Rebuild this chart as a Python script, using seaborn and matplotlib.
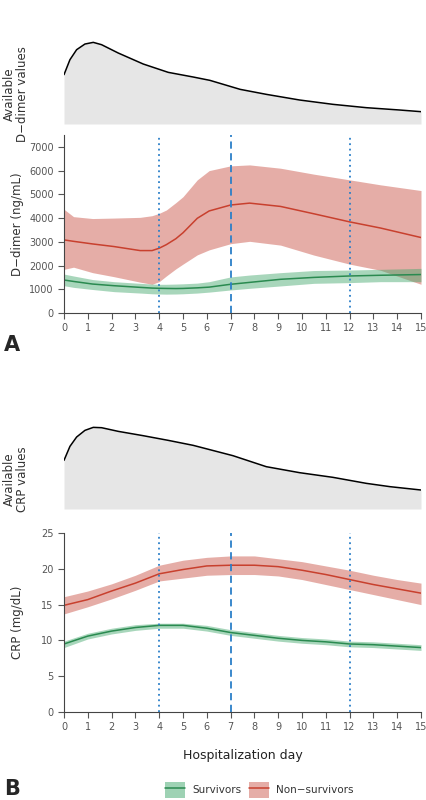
import numpy as np
import pandas as pd
import matplotlib
matplotlib.use('Agg')
import matplotlib.pyplot as plt
import seaborn as sns
from matplotlib.patches import Patch
from matplotlib.lines import Line2D

# availability curves (relative units), read at these days
dd_avail_x = [0, 0.25, 0.53, 0.88, 1.23, 1.58, 2.28, 3.33, 4.38, 5.43, 6.13, 7.4, 8.5, 9.9, 11.3, 12.7, 14.1, 15]
dd_avail = [148, 193, 223, 240, 245, 238, 213, 180, 155, 141, 131, 104, 89, 72, 59, 49, 42, 37]
crp_avail_x = [0, 0.25, 0.53, 0.88, 1.23, 1.58, 2.28, 3.33, 4.38, 5.43, 6.13, 7.1, 8.5, 9.9, 11.3, 12.7, 13.7, 15]
crp_avail = [146, 188, 216, 236, 245, 244, 233, 220, 206, 191, 178, 160, 127, 109, 95, 77, 67, 57]

# D-dimer (ng/mL)
dd_days = [0, 0.4, 1.2, 2.1, 3.2, 3.7, 4.0, 4.3, 4.7, 5.0, 5.6, 6.1, 7.0, 7.8, 9.1, 10.5, 12.0, 13.3, 15]
dd_non_mean = [3080, 3020, 2910, 2800, 2630, 2630, 2730, 2880, 3130, 3380, 3990, 4300, 4550, 4630, 4490, 4180, 3840, 3580, 3180]
dd_non_hi = [4370, 4060, 3980, 4000, 4030, 4100, 4200, 4340, 4650, 4900, 5610, 6000, 6200, 6240, 6100, 5850, 5610, 5400, 5160]
dd_non_lo = [1840, 1930, 1700, 1530, 1300, 1210, 1320, 1560, 1860, 2060, 2450, 2660, 2920, 3020, 2860, 2440, 2060, 1800, 1210]
dd_surv_mean = [1390, 1330, 1220, 1150, 1080, 1050, 1040, 1035, 1030, 1035, 1060, 1090, 1210, 1290, 1420, 1500, 1560, 1590, 1620]
dd_surv_hi = [1640, 1560, 1410, 1320, 1250, 1220, 1210, 1210, 1220, 1230, 1260, 1320, 1520, 1600, 1700, 1790, 1810, 1840, 1880]
dd_surv_lo = [1150, 1080, 990, 900, 840, 810, 800, 795, 800, 810, 840, 880, 970, 1040, 1140, 1250, 1280, 1320, 1320]

# CRP (mg/dL)
crp_days = list(range(16))
crp_non_mean = [14.9, 15.7, 16.9, 18.0, 19.3, 19.9, 20.4, 20.5, 20.5, 20.3, 19.8, 19.2, 18.5, 17.8, 17.2, 16.6]
crp_non_hi = [16.1, 16.9, 17.9, 19.1, 20.5, 21.2, 21.6, 21.8, 21.8, 21.4, 21.0, 20.4, 19.8, 19.1, 18.5, 18.0]
crp_non_lo = [13.7, 14.7, 15.8, 17.0, 18.3, 18.7, 19.1, 19.2, 19.2, 19.0, 18.5, 17.8, 17.1, 16.4, 15.7, 15.0]
crp_surv_mean = [9.5, 10.6, 11.3, 11.8, 12.1, 12.1, 11.7, 11.1, 10.7, 10.3, 10.0, 9.8, 9.5, 9.4, 9.2, 9.0]
crp_surv_hi = [9.9, 11.0, 11.7, 12.2, 12.4, 12.4, 12.1, 11.5, 11.1, 10.7, 10.4, 10.2, 9.9, 9.8, 9.6, 9.4]
crp_surv_lo = [9.0, 10.2, 10.9, 11.4, 11.7, 11.7, 11.3, 10.7, 10.3, 9.9, 9.6, 9.4, 9.1, 9.0, 8.8, 8.6]

vlines_dotted = [4, 12]
vline_dashed = 7

red_line = '#c8402e'
red_fill = '#cd5c50'
green_line = '#2a8a50'
green_fill = '#3fa66a'
blue = '#2b7fc8'
tick_col = '#555555'

sns.set_theme(style='ticks')
plt.rcParams['font.family'] = ['DejaVu Sans']

fig = plt.figure(figsize=(4.26, 8), dpi=100)

L, W = 64 / 426, 357 / 426


def fy(px):
    return 1 - px / 800


def density_panel(bottom_px, xs, ys, label):
    ax = fig.add_axes([L, fy(bottom_px), W, 83.3 / 800])
    df = pd.DataFrame({'day': xs, 'n': ys})
    ax.fill_between(df['day'], 0, df['n'], color='#e6e6e6', lw=0)
    sns.lineplot(data=df, x='day', y='n', ax=ax, color='black', lw=1.1)
    ax.set_xlim(0, 15)
    ax.set_ylim(0, 250)
    ax.axis('off')
    fig.text(0.037, fy(bottom_px - 30), label, rotation=90, ha='center', va='center',
             fontsize=8.5, color='#333333', linespacing=1.0)
    return ax


def main_panel(bottom_px, top_px, ymax, yticks, days, data, ylabel):
    ax = fig.add_axes([L, fy(bottom_px), W, (bottom_px - top_px) / 800])
    non_mean, non_hi, non_lo, s_mean, s_hi, s_lo = data
    n = len(days)
    ax.fill_between(days, non_lo, non_hi, color=red_fill, alpha=0.5, lw=0)
    ax.fill_between(days, s_lo, s_hi, color=green_fill, alpha=0.45, lw=0)
    df = pd.DataFrame({'day': list(days) * 2,
                       'val': list(s_mean) + list(non_mean),
                       'grp': ['Survivors'] * n + ['Non-survivors'] * n})
    sns.lineplot(data=df, x='day', y='val', hue='grp', ax=ax, lw=1.1,
                 palette={'Survivors': green_line, 'Non-survivors': red_line},
                 legend=False)
    for v in vlines_dotted:
        ax.axvline(v, color=blue, ls=(0, (1, 2)), lw=1.3)
    ax.axvline(vline_dashed, color=blue, ls=(0, (4, 2.5)), lw=1.3)
    ax.set_xlim(0, 15)
    ax.set_ylim(0, ymax)
    ax.set_xticks(range(16))
    ax.set_yticks(yticks)
    ax.tick_params(axis='both', labelsize=7, colors=tick_col, length=4, width=0.8,
                   labelcolor=tick_col)
    ax.set_xlabel('')
    ax.set_ylabel('')
    sns.despine(ax=ax)
    for s in ['left', 'bottom']:
        ax.spines[s].set_color('#444444')
        ax.spines[s].set_linewidth(0.8)
    fig.text(0.04, fy((bottom_px + top_px) / 2), ylabel, rotation=90, ha='center',
             va='center', fontsize=8.5, color='#333333')
    return ax


density_panel(124, dd_avail_x, dd_avail, 'Available\nD\u2212dimer values')
main_panel(313, 135, 7500, range(0, 7001, 1000), dd_days,
           (dd_non_mean, dd_non_hi, dd_non_lo, dd_surv_mean, dd_surv_hi, dd_surv_lo),
           'D\u2212dimer (ng/mL)')
fig.text(0.01, fy(345), 'A', fontsize=15, fontweight='bold', ha='left', va='center')

density_panel(509, crp_avail_x, crp_avail, 'Available\nCRP values')
main_panel(712, 533, 25, range(0, 26, 5), crp_days,
           (crp_non_mean, crp_non_hi, crp_non_lo, crp_surv_mean, crp_surv_hi, crp_surv_lo),
           'CRP (mg/dL)')
fig.text(L + W / 2, fy(756), 'Hospitalization day', fontsize=9, color='#222222',
         ha='center', va='center')
fig.text(0.01, fy(789), 'B', fontsize=15, fontweight='bold', ha='left', va='center')

handles = [(Patch(facecolor=green_fill, alpha=0.5, lw=0), Line2D([], [], color=green_line, lw=1.1)),
           (Patch(facecolor=red_fill, alpha=0.5, lw=0), Line2D([], [], color=red_line, lw=1.1))]
fig.legend(handles, ['Survivors', 'Non\u2212survivors'], loc='center',
           bbox_to_anchor=(0.609, fy(790)), ncol=2, frameon=False, fontsize=7.5,
           handlelength=1.9, handleheight=1.9, columnspacing=0.75, handletextpad=0.7,
           labelcolor='#333333')

fig.savefig('out.png', dpi=100)
